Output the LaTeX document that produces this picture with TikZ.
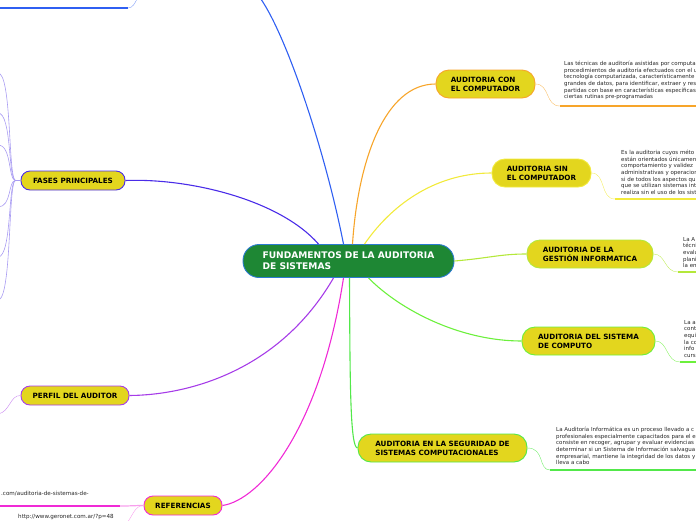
\documentclass[tikz,border=0pt]{standalone}
\usepackage{fontspec}
\setmainfont{DejaVu Sans}
\usepackage{xcolor}

\definecolor{rootgreen}{HTML}{1E8734}
\definecolor{rootblue}{HTML}{2B7BD0}
\definecolor{topicfill}{HTML}{E3D61E}
\definecolor{cOrange}{HTML}{F7A52A}
\definecolor{cYellow}{HTML}{F2EA3C}
\definecolor{cLime}{HTML}{B4E83A}
\definecolor{cGreen}{HTML}{6CF03C}
\definecolor{cGreenB}{HTML}{52E84A}
\definecolor{cBlue}{HTML}{2F5FF2}
\definecolor{cIndigo}{HTML}{4A2CE8}
\definecolor{cLavender}{HTML}{A99CF2}
\definecolor{cPurple}{HTML}{A63CE8}
\definecolor{cMagenta}{HTML}{F02AD6}

\begin{document}
\begin{tikzpicture}[x=1pt,y=-1pt,
    topic/.style={draw,line width=0.9pt,fill=topicfill,rounded corners=13pt,
      minimum height=28pt,align=left,inner sep=2pt,
      font=\bfseries\fontsize{7.2}{9}\selectfont},
    subtopic/.style={topic,rounded corners=9pt,minimum height=19pt},
    note/.style={anchor=north west,inner sep=0pt,align=left,text=black!85,
      font=\fontsize{5.5}{6.6}\selectfont},
    branch/.style={line width=1.1pt},
    underline/.style={line width=1.8pt}]
    % page frame
    \useasboundingbox (0,0) rectangle (696,520);
    \clip (0,0) rectangle (696,520);

    % central topic
    \node[draw=rootblue,line width=0.9pt,fill=rootgreen,text=white,rounded corners=16pt,
          minimum width=211pt,minimum height=33pt,align=left,
          font=\bfseries\fontsize{9.1}{11}\selectfont] (fund) at (348.5,261)
        {FUNDAMENTOS DE LA AUDITORIA\\DE SISTEMAS};

    % main topics
    \node[topic,draw=cOrange,minimum width=99pt]  (con)  at (485.5,84)  {AUDITORIA CON\\EL COMPUTADOR};
    \node[topic,draw=cYellow,minimum width=99pt]  (sin)  at (541.5,173) {AUDITORIA SIN\\EL COMPUTADOR};
    \node[topic,draw=cLime,minimum width=126pt]   (gest) at (590,254)   {AUDITORIA DE LA\\GESTIÓN INFORMATICA};
    \node[topic,draw=cGreen,minimum width=133pt]  (comp) at (588.5,341) {AUDITORIA DEL SISTEMA\\DE COMPUTO};
    \node[topic,draw=cGreenB,minimum width=169pt] (seg)  at (442.5,448) {AUDITORIA EN LA SEGURIDAD DE\\SISTEMAS COMPUTACIONALES};
    \node[subtopic,draw=cIndigo,minimum width=104pt] (fases)  at (73,180.5)  {FASES PRINCIPALES};
    \node[subtopic,draw=cPurple,minimum width=108pt] (perfil) at (75,395.5)  {PERFIL DEL AUDITOR};
    \node[subtopic,draw=cMagenta,minimum width=78pt] (refs)   at (183,505.5) {REFERENCIAS};

    % branches from the centre
    \coordinate (topout) at (258,-5);
    \draw[branch,cBlue]    ([xshift=-5pt]fund.north) .. controls (325,150) and (285,30) .. (topout);
    \draw[branch,cOrange]  ([xshift=4pt]fund.north) .. controls (358,160) and (385,84) .. (con.west);
    \draw[branch,cYellow]  ([xshift=16pt]fund.north) .. controls (395,200) and (440,173) .. (sin.west);
    \draw[branch,cLime]    (fund.east) .. controls (490,258) and (500,254) .. (gest.west);
    \draw[branch,cGreen]   ([xshift=20pt]fund.south) .. controls (400,310) and (460,341) .. (comp.west);
    \draw[branch,cGreenB]  ([xshift=1pt]fund.south) .. controls (350,380) and (350,448) .. (seg.west);
    \draw[branch,cMagenta] ([xshift=-5pt]fund.south) .. controls (320,430) and (260,500) .. (refs.east);
    \draw[branch,cPurple]  ([xshift=-15pt]fund.south) .. controls (280,370) and (190,395) .. (perfil.east);
    \draw[branch,cIndigo]  ([xshift=-30pt]fund.north) .. controls (280,200) and (190,178) .. (fases.east);

    % notes on the right
    \node[note] (n1) at (564,61) {Las técnicas de auditoría asistidas por computa\\
      procedimientos de auditoría efectuados con el u\\
      tecnología computarizada, característicamente\\
      grandes de datos, para identificar, extraer y res\\
      partidas con base en características específicas\\
      ciertas rutinas pre-programadas};
    \node[note] (n2) at (621,150) {Es la auditoria cuyos méto\\
      están orientados únicamen\\
      comportamiento y validez\\
      administrativas y operacion\\
      si de todos los aspectos qu\\
      que se utilizan sistemas int\\
      realiza sin el uso de los sist};
    \node[note] (n3) at (683,237) {La A\\técni\\evalu\\plani\\la em};
    \node[note] (n4) at (684,320) {La a\\cont\\equi\\la co\\info\\curs};
    \node[note] (n5) at (556,427) {La Auditoría Informática es un proceso llevado a c\\
      profesionales especialmente capacitados para el e\\
      consiste en recoger, agrupar y evaluar evidencias\\
      determinar si un Sistema de Información salvagua\\
      empresarial, mantiene la integridad de los datos y\\
      lleva a cabo};

    % note underlines and their links
    \coordinate (u1) at (560,106);
    \coordinate (u2) at (615,199);
    \coordinate (u3) at (678,272);
    \coordinate (u4) at (680,362);
    \coordinate (u5) at (550,470);
    \draw[cOrange!70]  (con.east)  .. controls (550,84) and (545,106) .. (u1);
    \draw[underline,cOrange] (u1) -- (700,106);
    \draw[cYellow!80]  (sin.east)  .. controls (606,173) and (600,199) .. (u2);
    \draw[underline,cYellow] (u2) -- (700,199);
    \draw[cLime!80]    (gest.east) .. controls (666,254) and (664,272) .. (u3);
    \draw[underline,cLime] (u3) -- (700,272);
    \draw[cGreen!80]   (comp.east) .. controls (668,341) and (666,362) .. (u4);
    \draw[underline,cGreen] (u4) -- (700,362);
    \draw[cGreenB!80]  (seg.east)  .. controls (545,448) and (538,470) .. (u5);
    \draw[underline,cGreenB] (u5) -- (700,470);

    % left side: stray branch at the top
    \coordinate (tl0) at (-2,8);
    \coordinate (tl1) at (128,8);
    \coordinate (tl2) at (138,-3);
    \draw[underline,cBlue] (tl0) -- (tl1);
    \draw[cBlue!60] (tl1) .. controls (133,8) and (135,3) .. (tl2);

    % phase sub-branches
    \foreach \yy in {73,113,145,207,257,300} {
        \draw[cLavender,line width=0.6pt] (fases.west) -- ++(-5,0)
            .. controls (8,180) and (12,\yy) .. (-2,\yy);
    }

    % auditor profile
    \coordinate (pf) at (-2,414);
    \draw[cPurple!60] (perfil.west) .. controls (10,395) and (10,412) .. (pf);

    % references
    \coordinate (r0) at (-2,506);
    \coordinate (r1) at (120,506);
    \coordinate (r2) at (127,523);
    \draw[underline,cMagenta] (r0) -- (r1);
    \draw[cMagenta!45,line width=1.2pt] (r1) .. controls (132,506) and (134,505.5) .. (refs.west);
    \draw[cMagenta!45] (refs.west) .. controls (135,505.5) and (133,515) .. (r2);
    \node[note,anchor=south west,font=\fontsize{5.6}{6.5}\selectfont] (ref1) at (1,496)
        {.com/auditoria-de-sistemas-de-};
    \node[note,anchor=south west,font=\fontsize{5.6}{6.5}\selectfont] (ref2) at (18,519.5)
        {http://www.geronet.com.ar/?p=48};
\end{tikzpicture}
\end{document}
